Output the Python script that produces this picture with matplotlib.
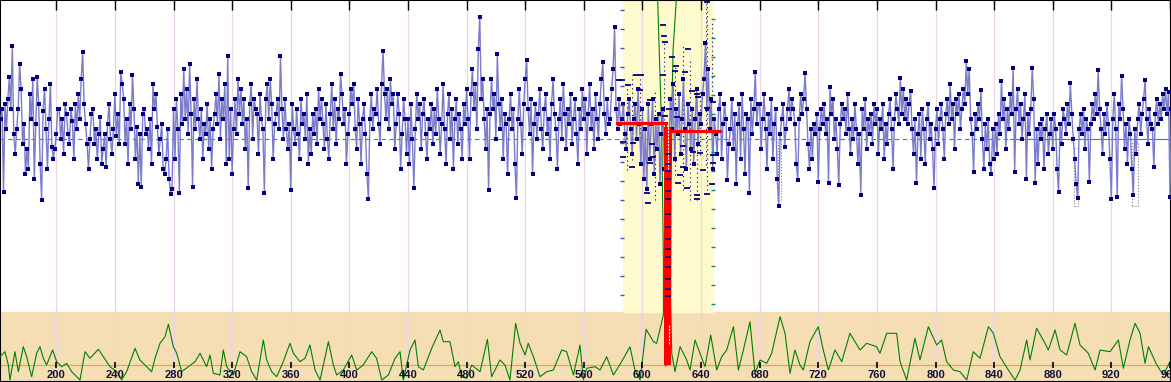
import numpy as np
import matplotlib as mpl
mpl.use("Agg")
from matplotlib import pyplot as plt
from matplotlib.patches import Rectangle


# upper trace: offset above the reference level, one sample per x from 162
signal = [
    20, 30, -53, 35, 10, 40, 62, 30, 93, 5, -15, 10, 30, 75, 50, -5, 15, -35, -10, -30,
    45, 20, 60, -40, 15, 62, 35, -25, -61, 28, 50, 10, -30, 20, 55, -8, -20, -10,
    # 200
    5, 30, 30, 0, 20, -15, 35, 25, 5, -5, 30, 18, -20, 35, 10, 45, 20, 60, 87, 35,
    15, -5, -30, 0, 25, 30, -5, 10, -20, 5, 22, -25, -10, 5, -28, 15, 35, 0, -15, 10,
    # 240
    45, 3, 25, -5, 67, 55, 40, -5, 20, -25, 35, 10, 64, 30, -20, 12, -45, 5, -48, 25,
    30, 5, 10, -10, 20, -25, 55, 30, 45, 12, -15, 0, 15, -30, -35, -20, 10, -40, -55, -50,
    # 280
    30, -20, 40, 10, -54, 45, 15, 70, 20, 50, 5, 75, 25, -48, 40, 10, 60, 20, 0, 30,
    -20, 15, 5, 35, -10, 20, -30, 10, 25, 45, 15, 65, 0, 40, 20, 55, -25, 83, -20, 30,
    # 320
    -35, 10, 40, 5, 60, 25, 50, 15, 40, -10, 20, -49, 35, 55, 0, 40, 30, 25, -15, 45,
    20, 10, -54, 40, 55, 20, 60, 35, -20, 15, 25, 40, 10, 83, 30, 0, 40, 10, -10, 15,
    # 360
    -51, 35, 10, -5, 30, 5, -20, 40, 15, 25, 0, 45, -25, 10, -15, 25, 5, 30, -5, 50,
    20, 40, 15, -10, 35, 0, -20, 25, 55, 10, 40, -5, 30, 20, 65, 45, 15, 30, -25, 5,
    # 400
    25, 50, 35, 55, 10, -10, 40, 15, -25, 20, 35, 5, -35, -60, 20, 45, 10, 30, 25, 50,
    15, -5, 55, 88, 45, 20, 50, 10, 60, 35, 45, -10, 15, 45, 25, -30, 5, 40, 20, -15,
    # 440
    20, -25, 35, 0, -49, 10, 45, 20, 35, -10, 25, 40, 5, -20, 20, 10, 35, -5, 30, 5,
    50, 20, -15, 15, 55, 10, -25, 25, 45, 0, 30, -30, 20, 40, -5, 25, 10, -20, 35, 15,
    # 480
    50, 20, -20, 45, 70, 30, 55, 10, 90, 122, 40, 60, 20, -10, 30, -51, 25, 60, 30, 45,
    0, 85, 35, 10, 40, -20, 25, 15, -35, 20, 45, 10, 30, -25, -59, 20, 50, 15, -15, 35,
    # 520
    60, 79, 30, 5, 40, -35, 15, 35, 0, 25, 50, 10, -10, 30, 45, 5, 20, -20, 35, 60,
    25, 10, -30, 20, 40, 0, 55, 25, -10, 30, 15, 45, -5, 20, 40, 5, -25, 30, 10, 50,
    # 560
    20, 40, -15, 25, 55, 10, 30, -10, 45, 20, 0, 35, 60, 77, 25, 5, 40, 15, 20, 50,
    70, 112, 30, 10, 40, 15, 20, 35, 5, -10, 25, 40, 10, -15, 20, 35, 0, 50, 15, -25,
    # 600
    30, -40, 10, -50, 35, -20, 15, 40, -35, 20, -10, 25, -45, 5, 30, -30, -60, -158, -25, 40,
    10, 55, -20, 30, 5, 45, -15, 20, 60, 10, -30, 35, 15, -10, 30, -25, 20, 50, -5, 25,
    # 640
    15, 45, 60, 96, 30, 70, 10, 40, -30, 20, 5, -15, 30, 45, -20, 15, 35, 20, -41, -5,
    10, 40, -10, 25, -45, 15, 35, -20, 45, 10, -35, 25, 20, -54, 40, 5, 30, 67, 15, 35,
    # 680
    35, -10, 20, 45, 10, -30, 25, 5, 40, -20, 15, 30, -40, -67, 5, 20, 35, -8, 10, 30,
    50, 20, 40, 30, 15, -25, -41, 20, 45, 25, 40, 66, 30, -5, -30, 10, -20, 15, 5, 25,
    # 720
    -43, 10, 30, 15, 35, 5, 20, -44, 52, 25, 40, 0, 20, -10, -46, 15, 35, 20, 30, 5,
    45, 10, -15, 20, 0, 35, 10, -25, 5, -56, 30, 10, 40, -10, 20, 5, 25, -5, 35, 15,
    # 760
    30, -15, 20, 10, 35, -20, 15, -5, 25, 40, 10, -30, 20, 45, 30, 15, 61, 25, 50, 20,
    40, 15, 35, 48, 10, -15, 20, -44, 5, 25, -20, 30, 10, -25, 20, 35, 0, 15, -10, -49,
    # 800
    10, 30, -5, 20, 35, 10, -20, 25, 40, 15, 55, 20, 35, -10, 40, 25, 45, 10, 30, 50,
    35, 78, 45, 70, 20, 5, -33, 25, 10, 35, 20, 49, 0, -30, 15, -10, 20, -25, -35, 10,
    # 840
    -20, 15, -15, 25, 5, 58, 20, 40, -10, 30, 10, 45, 25, 71, -33, 30, 50, 15, 35, 0,
    20, 45, -40, 25, 5, 30, 71, 40, -44, 10, -25, 15, 0, 20, -30, 10, 25, -15, 5, 20,
    # 880
    -10, 25, 10, -30, -53, 15, -5, 30, 20, 5, 35, 15, 56, 25, 0, -20, -45, -59, 10, 25,
    5, 30, -10, 20, 10, -43, 15, 35, 20, 45, 25, 69, 30, 10, -15, 25, 5, 35, 15, -20,
    # 920
    -60, 20, 45, 10, -58, 35, 20, 63, 30, -10, 15, -25, 20, 5, -30, -56, 10, -15, 20, 35,
    5, 25, 40, 59, 20, -5, 30, 15, 10, -28, 25, 40, 15, 35, 20, 45, 30, 50, 25, 47,
    -58, 30,
]
signal_x = np.arange(162, 162 + len(signal))

# lower trace, height above the orange level
green_x = [
    161.6, 165.0, 167.3, 168.4, 171.8, 174.1, 177.5, 179.8, 183.2, 186.6, 188.9, 191.2, 193.4,
    197.5, 200.3, 203.7, 207.1, 210.5, 216.2, 219.6, 223.0, 228.7, 232.1, 236.7, 241.2, 244.6,
    248.0, 253.7, 257.1, 261.7, 265.1, 267.4, 270.8, 274.2, 276.5, 279.9, 282.2, 285.6, 290.1,
    294.7, 298.1, 302.6, 304.9, 307.2, 311.7, 314.0, 316.3, 320.8, 325.4, 329.9, 333.3, 336.8,
    341.3, 343.6, 347.0, 350.4, 354.9, 359.5, 361.8, 366.3, 369.7, 373.1, 376.6, 380.0, 385.7,
    389.1, 391.3, 395.9, 401.6, 405.0, 409.5, 415.2, 418.6, 422.1, 426.6, 431.2, 434.6, 436.8,
    441.4, 444.8, 447.1, 450.5, 456.2, 461.9, 464.1, 468.7, 472.1, 474.4, 476.6, 480.1, 483.5,
    489.2, 494.2, 497.1, 502.8, 506.2, 509.6, 513.5, 516.5, 519.9, 522.1, 525.6, 530.1, 534.7,
    539.2, 544.9, 548.3, 552.9, 557.4, 559.7, 562.0, 567.6, 571.1, 575.6, 580.2, 585.8, 591.5,
    594.9, 598.4, 602.5, 607.5, 609.7, 614.3, 614.3, 613.2, 611.1, 610.4, 609.5, 624.0, 623.1,
    620.9, 620.2, 619.5, 619.3, 620.0, 622.2, 625.7, 630.2, 632.5, 635.9, 639.3, 642.7, 646.6,
    650.7, 654.1, 657.5, 662.1, 665.5, 668.9, 673.4, 676.8, 680.3, 684.8, 688.2, 693.9, 697.3,
    700.7, 704.1, 707.5, 709.8, 714.3, 720.0, 723.4, 726.9, 731.4, 736.0, 741.6, 748.5, 753.0,
    759.8, 762.1, 766.7, 773.5, 775.8, 780.3, 786.0, 789.4, 795.1, 800.8, 804.2, 807.6, 812.2,
    816.7, 821.3, 825.8, 830.4, 836.1, 839.5, 844.0, 849.7, 854.3, 857.7, 862.2, 864.5, 869.0,
    874.7, 877.0, 881.6, 885.0, 889.5, 895.2, 898.6, 904.3, 908.9, 912.3, 919.1, 924.8, 928.2,
    932.7, 936.2, 939.6, 943.0, 945.3, 951.0, 955.5, 960.0,
]
green_y = [
    8.6, 13.6, 0.3, -14.7, 13.6, -6.4, 18.6, 8.6, -11.4, 12.0, 18.6, 7.0, 0.3,
    15.3, 3.6, -1.4, 2.0, -6.4, -14.7, 13.6, 7.0, 16.0, 8.6, -1.4, -6.4, -14.7,
    -6.4, 17.0, 5.3, -1.4, -6.4, 7.0, 22.0, 28.6, 41.0, 18.6, 12.0, -6.4, -1.4,
    3.6, 12.0, -1.4, 10.3, -8.0, -9.7, 15.3, -1.4, -9.7, 13.6, 8.6, -6.4, -14.7,
    25.3, 5.3, -6.4, -11.4, 3.6, 22.0, 12.0, 3.6, 7.0, 20.3, -4.7, -14.7, 23.6,
    0.3, -9.7, -4.7, 10.3, -4.7, 0.3, 13.6, 7.0, -14.7, -9.7, 7.0, 13.6, -14.7,
    15.3, 25.3, -1.4, -4.7, 17.0, 35.3, 23.6, 23.6, -1.4, 3.6, -11.4, -13.0, 0.3,
    -6.4, 26.0, -11.4, 5.3, 0.3, -14.7, 42.0, 22.0, 10.3, 22.0, 8.6, -11.4, -6.4,
    -4.7, 15.3, 13.6, -9.7, 20.3, -14.7, -3.0, -1.4, -4.7, 8.6, -9.7, 3.6, 18.6,
    -4.7, -14.7, 36.0, 23.6, 22.0, 50.3, 105.0, 232.0, 332.0, 365.0, 420.0, 420.0, 365.0,
    315.0, 265.0, 165.0, 60.0, 12.0, -6.4, 18.6, 5.3, -4.7, 25.3, 12.0, -1.4, 30.3,
    -4.7, 8.6, 15.3, 38.6, -4.7, 15.3, 43.6, -8.0, 5.3, 2.0, 12.0, 48.6, 32.0,
    -8.0, 15.3, 0.3, -4.7, 23.6, 38.6, 15.3, -4.7, 15.3, 3.6, 32.0, 15.3, 22.0,
    18.6, 12.0, 32.0, 32.0, 3.6, -14.7, 27.0, 5.3, 38.6, 20.3, 25.3, 3.6, -4.7,
    -6.4, -14.7, 13.6, 7.0, 38.6, 32.0, 8.6, -4.7, -14.7, -4.7, 25.3, 5.3, 37.0,
    22.0, 15.3, 35.3, 15.3, 10.3, 42.0, 20.3, 12.0, -4.7, 15.3, 13.6, 25.3, -3.0,
    25.3, 42.0, 32.0, 2.0, 18.6, 0.3, -9.7, 3.6,
]

# markers scattered over the highlighted window
dash_x = [643.9, 614.0, 614.7, 615.2, 631.1, 620.2, 622.9, 622.2, 614.0, 629.0, 595.6, 599.0,
          586.1, 590.2, 598.3, 633.8, 637.2, 605.2, 618.1, 637.9, 644.1, 615.4, 623.6, 648.2,
          586.7, 593.6, 606.5, 627.7, 634.5, 639.3, 586.7, 648.2, 607.2, 592.9, 605.2, 603.1,
          603.8, 630.4, 624.3, 637.2, 644.1, 637.2, 625.6, 627.7, 648.2, 641.3, 647.5, 583.7]
dash_y = [136.7, 114, 103, 96.7, 90, 82, 73, 68, 64, 67, 64, 64,
          59, 54, 49, 48, 45, 39, 30, 42, 31, 23, 22, 37,
          -3, -4, -5, -7, -13, -14, -18, -16, -18, -28, -24, -54,
          -64, -49, -44, -56, -55, -60, -36, -28, -24, -31, -45, 59]
bar_dash_y = [-15, -25, -32, -40, -52, -60, -75, -88, -100, -110, -118, -128, -140, -150, -157]

dot_x = [643.4, 647.5, 598.3, 608.6, 614.7, 632.5, 637.2, 627.7, 589.5, 592.9, 622.2, 639.3, 644.1]
dot_top = [137, 119, 64, 49, 99, 79, 45, 94, 54, 64, 74, 49, 137]
dot_bot = [-26, 39, -21, -61, 19, -61, -61, -51, -31, -21, -36, -16, -51]

# red level markers
red_left = (582.7, 616.1, 16.3)
red_right = (618.8, 653.0, 8.3)
red_bar = (615.0, 619.7)

window = (586.7, 648.2)
grid_x = np.arange(200, 961, 40)

TOP, BOTTOM = 139, -243
PANEL_TOP = -173
GREEN_BASE = -226.3

fig = plt.figure(figsize=(11.71, 3.82), dpi=100)
ax = fig.add_axes([0, 0, 1, 1])
ax.set_xlim(161.6, 960.7)
ax.set_ylim(BOTTOM, TOP)

ax.axhspan(BOTTOM, PANEL_TOP, color="#f5deb3", zorder=0)
ax.add_patch(Rectangle((window[0], PANEL_TOP), window[1] - window[0], TOP - PANEL_TOP,
                       color="#fffacd", zorder=0.5))
ax.vlines(grid_x, BOTTOM, TOP, color="#ecd3ec", lw=0.8, zorder=1)

# reference level
ax.plot([161.6, 851], [0, 0], color="#707070", lw=0.8, ls=(0, (4, 3)), zorder=2)
ax.plot([851, 960.7], [0, 0], color="#707070", lw=0.8, zorder=2)
ax.axhline(GREEN_BASE, color="#ffa500", lw=0.8, zorder=2)

ax.plot(green_x, GREEN_BASE + np.array(green_y), color="#008000", lw=0.8, zorder=3)

for x0, y0, w, h in [(894.5, -67, 2.7, 58), (934.1, -67, 4.1, 64), (692.5, -61, 2.1, 60)]:
    ax.add_patch(Rectangle((x0, y0), w, h, fill=False, ec="#808080", ls=":", lw=0.8, zorder=3))

ax.vlines(dot_x, dot_bot, dot_top, color="#000080", lw=0.8, ls=(0, (1, 3)), zorder=4)
ax.plot(signal_x, signal, color="#7b7bcc", lw=1.0, zorder=4)
ax.plot(signal_x, signal, ls="none", marker="s", ms=2.2, mew=0, color="#000080", zorder=5)
ax.plot(dash_x, dash_y, ls="none", marker="_", ms=5, mew=1.3, color="#000080", zorder=5)

# tick marks along the window edges
ax.plot(np.full(16, window[0] - 0.6), 129 - 19 * np.arange(16), ls="none", marker="_",
        ms=2.5, mew=1, color="#7030d0", zorder=5)
ax.plot(np.full(16, window[1]), 120 - 19 * np.arange(16), ls="none", marker="_",
        ms=2.5, mew=1, color="#008c8c", zorder=5)

ax.plot(red_left[:2], [red_left[2]] * 2, color="#ff0000", lw=2.2, zorder=6)
ax.plot([red_left[1], red_left[1]], [red_left[2], GREEN_BASE], color="#ff0000", lw=1.5, zorder=6)
ax.plot(red_right[:2], [red_right[2]] * 2, color="#ff0000", lw=2.2, zorder=6)
ax.add_patch(Rectangle((red_bar[0], GREEN_BASE), red_bar[1] - red_bar[0],
                       red_left[2] - 4 - GREEN_BASE, color="#ff0000", lw=0, zorder=6))
ax.plot([617.6, 617.6], [12, -31], color="white", lw=0.8, ls=(0, (2, 1)), zorder=6.5)
ax.plot([617.8, 617.8], [-186, -206], color="white", lw=0.8, ls=(0, (2, 1)), zorder=6.5)
ax.plot(np.full(len(bar_dash_y), 617.4), bar_dash_y, ls="none", marker="_", ms=4,
        mew=1.2, color="#000080", zorder=7)

# axis ticks
ax.vlines(grid_x, TOP - 10, TOP, color="black", lw=1.0, zorder=8)
ax.vlines(grid_x, GREEN_BASE - 2.5, GREEN_BASE + 3, color="black", lw=1.2, zorder=8)
for gx in grid_x:
    ax.text(gx, -235.8, str(gx), ha="center", va="center", fontsize=8, fontweight="bold",
            family="Liberation Sans", color="#101030", zorder=9)

ax.set_xticks([])
ax.set_yticks([])
for s in ax.spines.values():
    s.set_color("black")
    s.set_linewidth(1.5)

fig.savefig("out.png", dpi=100)
